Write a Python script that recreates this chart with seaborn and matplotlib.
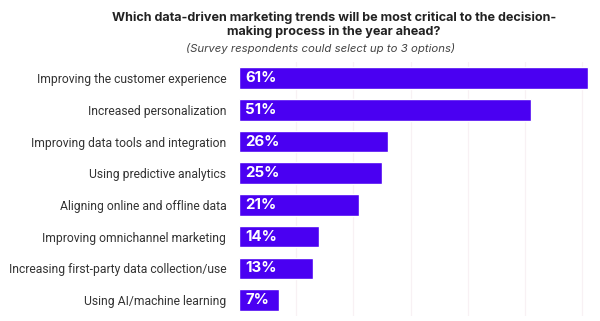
import matplotlib
matplotlib.use("Agg")
import matplotlib.pyplot as plt
import seaborn as sns
import pandas as pd

categories = [
    "Improving the customer experience",
    "Increased personalization",
    "Improving data tools and integration",
    "Using predictive analytics",
    "Aligning online and offline data",
    "Improving omnichannel marketing",
    "Increasing first-party data collection/use",
    "Using AI/machine learning",
]
values = [61, 51, 26, 25, 21, 14, 13, 7]
value_labels = ["61%", "51%", "26%", "25%", "21%", "14%", "13%", "7%"]
title = "Which data-driven marketing trends will be most critical to the decision-\nmaking process in the year ahead?"
subtitle = "(Survey respondents could select up to 3 options)"

sns.set_theme(style="white")
plt.rcParams['font.family'] = ['Inter', 'DejaVu Sans']

df = pd.DataFrame({"cat": categories, "val": values})

fig = plt.figure(figsize=(6.0, 3.21), dpi=100)
ax = fig.add_axes([0.398, 0.016, 0.592, 0.790])

bar_color = "#4A00F2"
sns.barplot(data=df, x="val", y="cat", color=bar_color, width=0.68,
            saturation=1, ax=ax, orient="h")

ax.set_xlim(0, 62.06)
ax.set_xticks([10, 20, 30, 40, 50, 60])
ax.grid(axis="x", color="#F8F1F4", linewidth=0.9)
ax.set_axisbelow(True)
ax.tick_params(axis="x", length=0, labelbottom=False)
ax.tick_params(axis="y", length=0, pad=9, labelsize=8.7, labelcolor="#333333")
for t in ax.get_yticklabels():
    t.set_fontfamily(['Roboto', 'DejaVu Sans'])
ax.set_xlabel("")
ax.set_ylabel("")
for s in ax.spines.values():
    s.set_visible(False)

for i, (v, lab) in enumerate(zip(values, value_labels)):
    ax.text(1.1, i, lab, color="white", fontsize=10.8, fontweight="bold",
            va="center", ha="left")

fig.text(0.557, 0.922, title, ha="center", va="center", fontsize=9.1,
         fontweight="bold", color="#222222", linespacing=1.2)
fig.text(0.535, 0.848, subtitle, ha="center", va="center", fontsize=8.2,
         style="italic", color="#444444")

fig.savefig("out.png", dpi=100, facecolor="white")
